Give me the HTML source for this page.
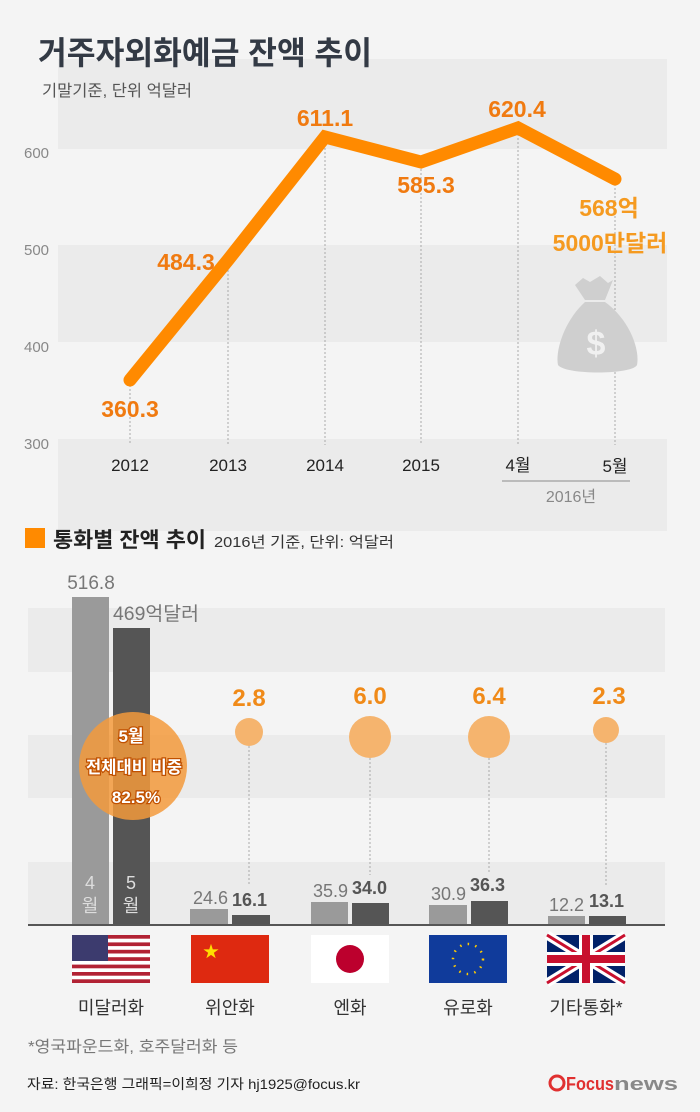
<!DOCTYPE html>
<html><head><meta charset="utf-8"><style>
html,body{margin:0;padding:0;background:#f4f4f4}
svg{display:block;font-family:"Liberation Sans","Noto Sans CJK KR",sans-serif}
</style></head><body>
<svg width="700" height="1112" viewBox="0 0 700 1112">
<rect width="700" height="1112" fill="#f4f4f4"/>
<!-- top bands -->
<rect x="58" y="59" width="609" height="90" fill="#ebebeb"/>
<rect x="58" y="245" width="609" height="97" fill="#ebebeb"/>
<rect x="58" y="439" width="609" height="92" fill="#ebebeb"/>
<text x="38" y="64" font-size="32" font-weight="bold" fill="#333a45" textLength="334" lengthAdjust="spacingAndGlyphs">거주자외화예금 잔액 추이</text>
<text x="42" y="96" font-size="16" fill="#555" textLength="150" lengthAdjust="spacingAndGlyphs">기말기준, 단위 억달러</text>
<g font-size="15" fill="#888">
<text x="24" y="158">600</text><text x="24" y="255">500</text><text x="24" y="352">400</text><text x="24" y="449">300</text>
</g>
<g stroke="#aaa" stroke-dasharray="2,2" stroke-width="1">
<line x1="130" y1="385" x2="130" y2="445"/><line x1="228" y1="262" x2="228" y2="445"/>
<line x1="325" y1="140" x2="325" y2="445"/><line x1="421" y1="165" x2="421" y2="445"/>
<line x1="518" y1="130" x2="518" y2="445"/><line x1="615" y1="180" x2="615" y2="445"/>
</g>
<polyline points="130,380 228,260 325,137 421,162 518,128 615,179" fill="none" stroke="#ff8a00" stroke-width="13" stroke-linejoin="miter" stroke-linecap="round"/>
<g font-size="23" font-weight="bold" fill="#f07a10" text-anchor="middle">
<text x="130" y="417">360.3</text><text x="186" y="270">484.3</text>
<text x="325" y="126">611.1</text><text x="426" y="193">585.3</text>
<text x="517" y="117">620.4</text>
<text x="609" y="216" fill="#f59a20">568억</text><text x="610" y="251" fill="#f59a20">5000만달러</text>
</g>
<!-- money bag -->
<g fill="#cfcfcf">
<path d="M575,285 L583,278 L590,282 L600,276 L608,283 L613,280 L605,300 L585,300 Z"/>
<path d="M585,302 L605,302 C630,320 640,350 637,365 C632,375 565,375 558,365 C555,350 565,320 585,302 Z"/>
</g>
<text x="596" y="355" font-size="34" font-weight="bold" fill="#f0f0f0" text-anchor="middle">$</text>
<g font-size="17" fill="#222" text-anchor="middle">
<text x="130" y="471">2012</text><text x="228" y="471">2013</text><text x="325" y="471">2014</text>
<text x="421" y="471">2015</text><text x="518" y="471">4월</text><text x="615" y="472">5월</text>
</g>
<line x1="502" y1="481" x2="630" y2="481" stroke="#bbb" stroke-width="2"/>
<text x="571" y="502" font-size="16" fill="#888" text-anchor="middle">2016년</text>
<!-- section 2 -->
<rect x="25" y="528" width="20" height="20" fill="#ff8a00"/>
<text x="53" y="547" font-size="21" font-weight="bold" fill="#222" textLength="153" lengthAdjust="spacingAndGlyphs">통화별 잔액 추이</text>
<text x="214" y="547" font-size="15" fill="#333" textLength="180" lengthAdjust="spacingAndGlyphs">2016년 기준, 단위: 억달러</text>
<rect x="28" y="608" width="637" height="64" fill="#ebebeb"/>
<rect x="28" y="735" width="637" height="63" fill="#ebebeb"/>
<rect x="28" y="862" width="637" height="62" fill="#ebebeb"/>
<!-- bars -->
<g fill="#9a9a9a">
<rect x="72" y="597" width="37" height="327"/><rect x="190" y="909" width="38" height="15"/>
<rect x="311" y="902" width="37" height="22"/><rect x="429" y="905" width="38" height="19"/>
<rect x="548" y="916" width="37" height="8"/>
</g>
<g fill="#555">
<rect x="113" y="628" width="37" height="296"/><rect x="232" y="915" width="38" height="9"/>
<rect x="352" y="903" width="37" height="21"/><rect x="471" y="901" width="37" height="23"/>
<rect x="589" y="916" width="37" height="8"/>
</g>
<line x1="28" y1="925" x2="665" y2="925" stroke="#222" stroke-width="1.5"/>
<text x="91" y="589" font-size="19" fill="#777" text-anchor="middle">516.8</text>
<text x="113" y="620" font-size="19" fill="#777" textLength="86" lengthAdjust="spacingAndGlyphs">469억달러</text>
<g font-size="18" fill="#ddd" text-anchor="middle">
<text x="90" y="889">4</text><text x="90" y="912">월</text><text x="131" y="889">5</text><text x="131" y="912">월</text>
</g>
<g stroke="#aaa" stroke-dasharray="2,2">
<line x1="249" y1="746" x2="249" y2="884"/><line x1="370" y1="758" x2="370" y2="875"/>
<line x1="489" y1="758" x2="489" y2="872"/><line x1="606" y1="743" x2="606" y2="885"/>
</g>
<g fill="#f5b46e">
<circle cx="249" cy="732" r="14"/><circle cx="370" cy="737" r="21"/>
<circle cx="489" cy="737" r="21"/><circle cx="606" cy="730" r="13"/>
</g>
<circle cx="133" cy="766" r="54" fill="#f39a3c" fill-opacity="0.85"/>
<g font-weight="bold" fill="#fff" stroke="#c05000" stroke-width="2.5" paint-order="stroke" text-anchor="middle">
<text x="131" y="742" font-size="17">5월</text>
<text x="134" y="773" font-size="17" textLength="96" lengthAdjust="spacingAndGlyphs">전체대비 비중</text>
<text x="136" y="803" font-size="17">82.5%</text>
</g>
<g font-size="24" font-weight="bold" fill="#f08a18" text-anchor="middle">
<text x="249" y="706">2.8</text><text x="370" y="704">6.0</text><text x="489" y="704">6.4</text><text x="609" y="704">2.3</text>
</g>
<g font-size="18" fill="#777" text-anchor="end">
<text x="228" y="904">24.6</text><text x="348" y="897">35.9</text><text x="466" y="900">30.9</text><text x="584" y="911">12.2</text>
</g>
<g font-size="18" font-weight="bold" fill="#555">
<text x="232" y="906">16.1</text><text x="352" y="894">34.0</text><text x="470" y="891">36.3</text><text x="589" y="907">13.1</text>
</g>
<!-- flags -->
<g>
<rect x="72" y="935" width="78" height="48" fill="#fff"/>
<g fill="#b22234"><rect x="72" y="935" width="78" height="3.7"/><rect x="72" y="942.4" width="78" height="3.7"/><rect x="72" y="949.8" width="78" height="3.7"/><rect x="72" y="957.2" width="78" height="3.7"/><rect x="72" y="964.6" width="78" height="3.7"/><rect x="72" y="972" width="78" height="3.7"/><rect x="72" y="979.3" width="78" height="3.7"/></g>
<rect x="72" y="935" width="36" height="26" fill="#3c3b6e"/>
</g>
<rect x="191" y="935" width="78" height="48" fill="#de2910"/>
<text x="203" y="957" font-size="16" fill="#ffde00">★</text>
<rect x="311" y="935" width="78" height="48" fill="#fff"/>
<circle cx="350" cy="959" r="14" fill="#bc002d"/>
<rect x="429" y="935" width="78" height="48" fill="#103b9b"/>
<circle cx="468" cy="959" r="15" fill="none" stroke="#ffcc00" stroke-width="2.5" stroke-dasharray="1.5,6.3"/>
<g>
<rect x="547" y="935" width="78" height="48" fill="#012169"/>
<path d="M547,935 L625,983 M625,935 L547,983" stroke="#fff" stroke-width="9"/>
<path d="M547,935 L625,983 M625,935 L547,983" stroke="#c8102e" stroke-width="3"/>
<path d="M586,935 V983 M547,959 H625" stroke="#fff" stroke-width="14"/>
<path d="M586,935 V983 M547,959 H625" stroke="#c8102e" stroke-width="8"/>
</g>
<g font-size="18" fill="#333" text-anchor="middle">
<text x="111" y="1014">미달러화</text><text x="230" y="1014">위안화</text><text x="350" y="1014">엔화</text>
<text x="468" y="1014">유로화</text><text x="586" y="1014">기타통화*</text>
</g>
<text x="28" y="1052" font-size="16" fill="#777" textLength="210" lengthAdjust="spacingAndGlyphs">*영국파운드화, 호주달러화 등</text>
<text x="27" y="1089" font-size="14" fill="#222" textLength="333" lengthAdjust="spacingAndGlyphs">자료: 한국은행   그래픽=이희정 기자 hj1925@focus.kr</text>
<circle cx="557" cy="1083" r="7" fill="none" stroke="#e03030" stroke-width="3"/>
<text x="566" y="1090" font-size="18" font-weight="bold" fill="#e03030" textLength="48" lengthAdjust="spacingAndGlyphs">Focus</text>
<text x="614" y="1090" font-size="18" font-weight="bold" fill="#888" textLength="64" lengthAdjust="spacingAndGlyphs">news</text>
</svg>
</body></html>
